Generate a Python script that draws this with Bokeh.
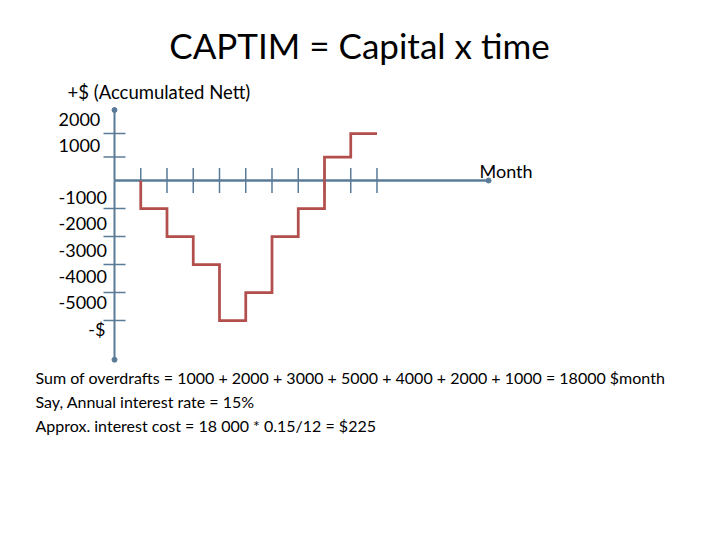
from bokeh.plotting import figure
from bokeh.models import Range1d
from bokeh.core.properties import value
from bokeh.embed import file_html
from bokeh.resources import INLINE

# ---------------- data ----------------
title = "CAPTIM = Capital x time"
y_axis_title = "+$ (Accumulated Nett)"
x_axis_title = "Month"
month_ticks = [1, 2, 3, 4, 5, 6, 7, 8, 9, 10]
step_edges = [1, 2, 3, 4, 5, 6, 7, 8, 9, 10]
balances = [-1000, -2000, -3000, -5000, -4000, -2000, -1000, 1000, 2000]
y_ticks_pos = [1000, 2000]
y_ticks_neg = [-1000, -2000, -3000, -4000, -5000]
y_labels = ["2000", "1000", "", "-1000", "-2000", "-3000", "-4000", "-5000", "-$"]
axis_top = 3000
axis_bottom = -6400
axis_right = 14.25
notes = [
    "Sum of overdrafts = 1000 + 2000 + 3000 + 5000 + 4000 + 2000 + 1000 = 18000 $month",
    "Say, Annual interest rate = 15%",
    "Approx. interest cost = 18 000 * 0.15/12 = $225",
]

# ---------------- layout (pixels) ----------------
W, H = 704, 524
X0, MPX = 114.0, 26.25            # x of month 0, px per month
Y0, NEG, POS = 180.0, 28.0, 23.5  # y of zero, px per 1000 below / above

def tx(px):
    return (px - X0) / MPX

def ty(py):
    return (Y0 - py) / NEG * 1000

AXIS = "#5A7B98"
RED = "#B24E4B"
FONT = value("Lato")

p = figure(width=W, height=H, output_backend="svg", toolbar_location=None,
           x_range=Range1d(tx(0), tx(W)),
           y_range=Range1d(ty(H), ty(0)),
           min_border=0, outline_line_color=None)
p.extra_y_ranges = {"pos": Range1d((Y0 - H) / POS * 1000, Y0 / POS * 1000)}
p.xaxis.visible = False
p.yaxis.visible = False
p.grid.visible = False
p.background_fill_color = "white"
p.border_fill_color = "white"

# axes
p.line([0, axis_right], [0, 0], line_color=AXIS, line_width=2.5)
p.line([0, 0], [0, axis_bottom], line_color=AXIS, line_width=2)
p.line([0, 0], [0, axis_top], line_color=AXIS, line_width=2, y_range_name="pos")
p.scatter([0], [axis_bottom], size=5, color=AXIS)
p.scatter([0], [axis_top], size=5, color=AXIS, y_range_name="pos")
p.scatter([axis_right], [0], size=5, color=AXIS)

# ticks
p.scatter(month_ticks, [0] * len(month_ticks), marker="dash", size=25, angle=1.5708,
          line_color=AXIS, line_width=1.5)
p.scatter([0] * len(y_ticks_neg), y_ticks_neg, marker="dash", size=22,
          line_color=AXIS, line_width=1.5)
p.scatter([0] * len(y_ticks_pos), y_ticks_pos, marker="dash", size=22,
          line_color=AXIS, line_width=1.5, y_range_name="pos")

# step line
pts = [(step_edges[0], 0)]
for i, b in enumerate(balances):
    x = step_edges[i]
    if pts[-1][1] * b < 0:
        pts.append((x, 0))
    pts.append((x, b))
    pts.append((step_edges[i + 1], b))
segs, cur = [], [pts[0]]
for q in pts[1:]:
    cur.append(q)
    if q[1] == 0 and len(cur) > 1:
        segs.append(cur)
        cur = [q]
if len(cur) > 1:
    segs.append(cur)
for s in segs:
    xs = [a for a, _ in s]
    ys = [b for _, b in s]
    if max(ys) > 0:
        p.line(xs, ys, line_color=RED, line_width=2.75, line_join="miter", y_range_name="pos")
    else:
        p.line(xs, ys, line_color=RED, line_width=2.75, line_join="miter")

# texts
p.text([tx(359)], [ty(44)], text=[title], text_font=FONT, text_font_size="35px",
       text_align="center", text_baseline="alphabetic", text_color="black")
p.text([tx(67)], [ty(91)], text=[y_axis_title], text_font=FONT, text_font_size="18.5px",
       text_align="left", text_baseline="alphabetic", text_color="black")
p.text([tx(479)], [ty(170)], text=[x_axis_title], text_font=FONT, text_font_size="18px",
       text_align="left", text_baseline="alphabetic", text_color="black")
lx, ly, lt = [], [], []
for i, t in enumerate(y_labels[:-1]):
    if t:
        lx.append(tx(58)); ly.append(ty(118.5 + 26.2 * i)); lt.append(t)
p.text(lx, ly, text=lt, text_font=FONT, text_font_size="18px",
       text_align="left", text_baseline="alphabetic", text_color="black")
p.text([tx(105)], [ty(118.5 + 26.2 * (len(y_labels) - 1))], text=[y_labels[-1]],
       text_font=FONT, text_font_size="18px", text_align="right",
       text_baseline="alphabetic", text_color="black")
p.text([tx(35)] * len(notes), [ty(377 + 24 * i) for i in range(len(notes))], text=notes,
       text_font=FONT, text_font_size="16px", text_align="left",
       text_baseline="alphabetic", text_color="black")

open("out.html", "w").write(file_html(p, INLINE))
